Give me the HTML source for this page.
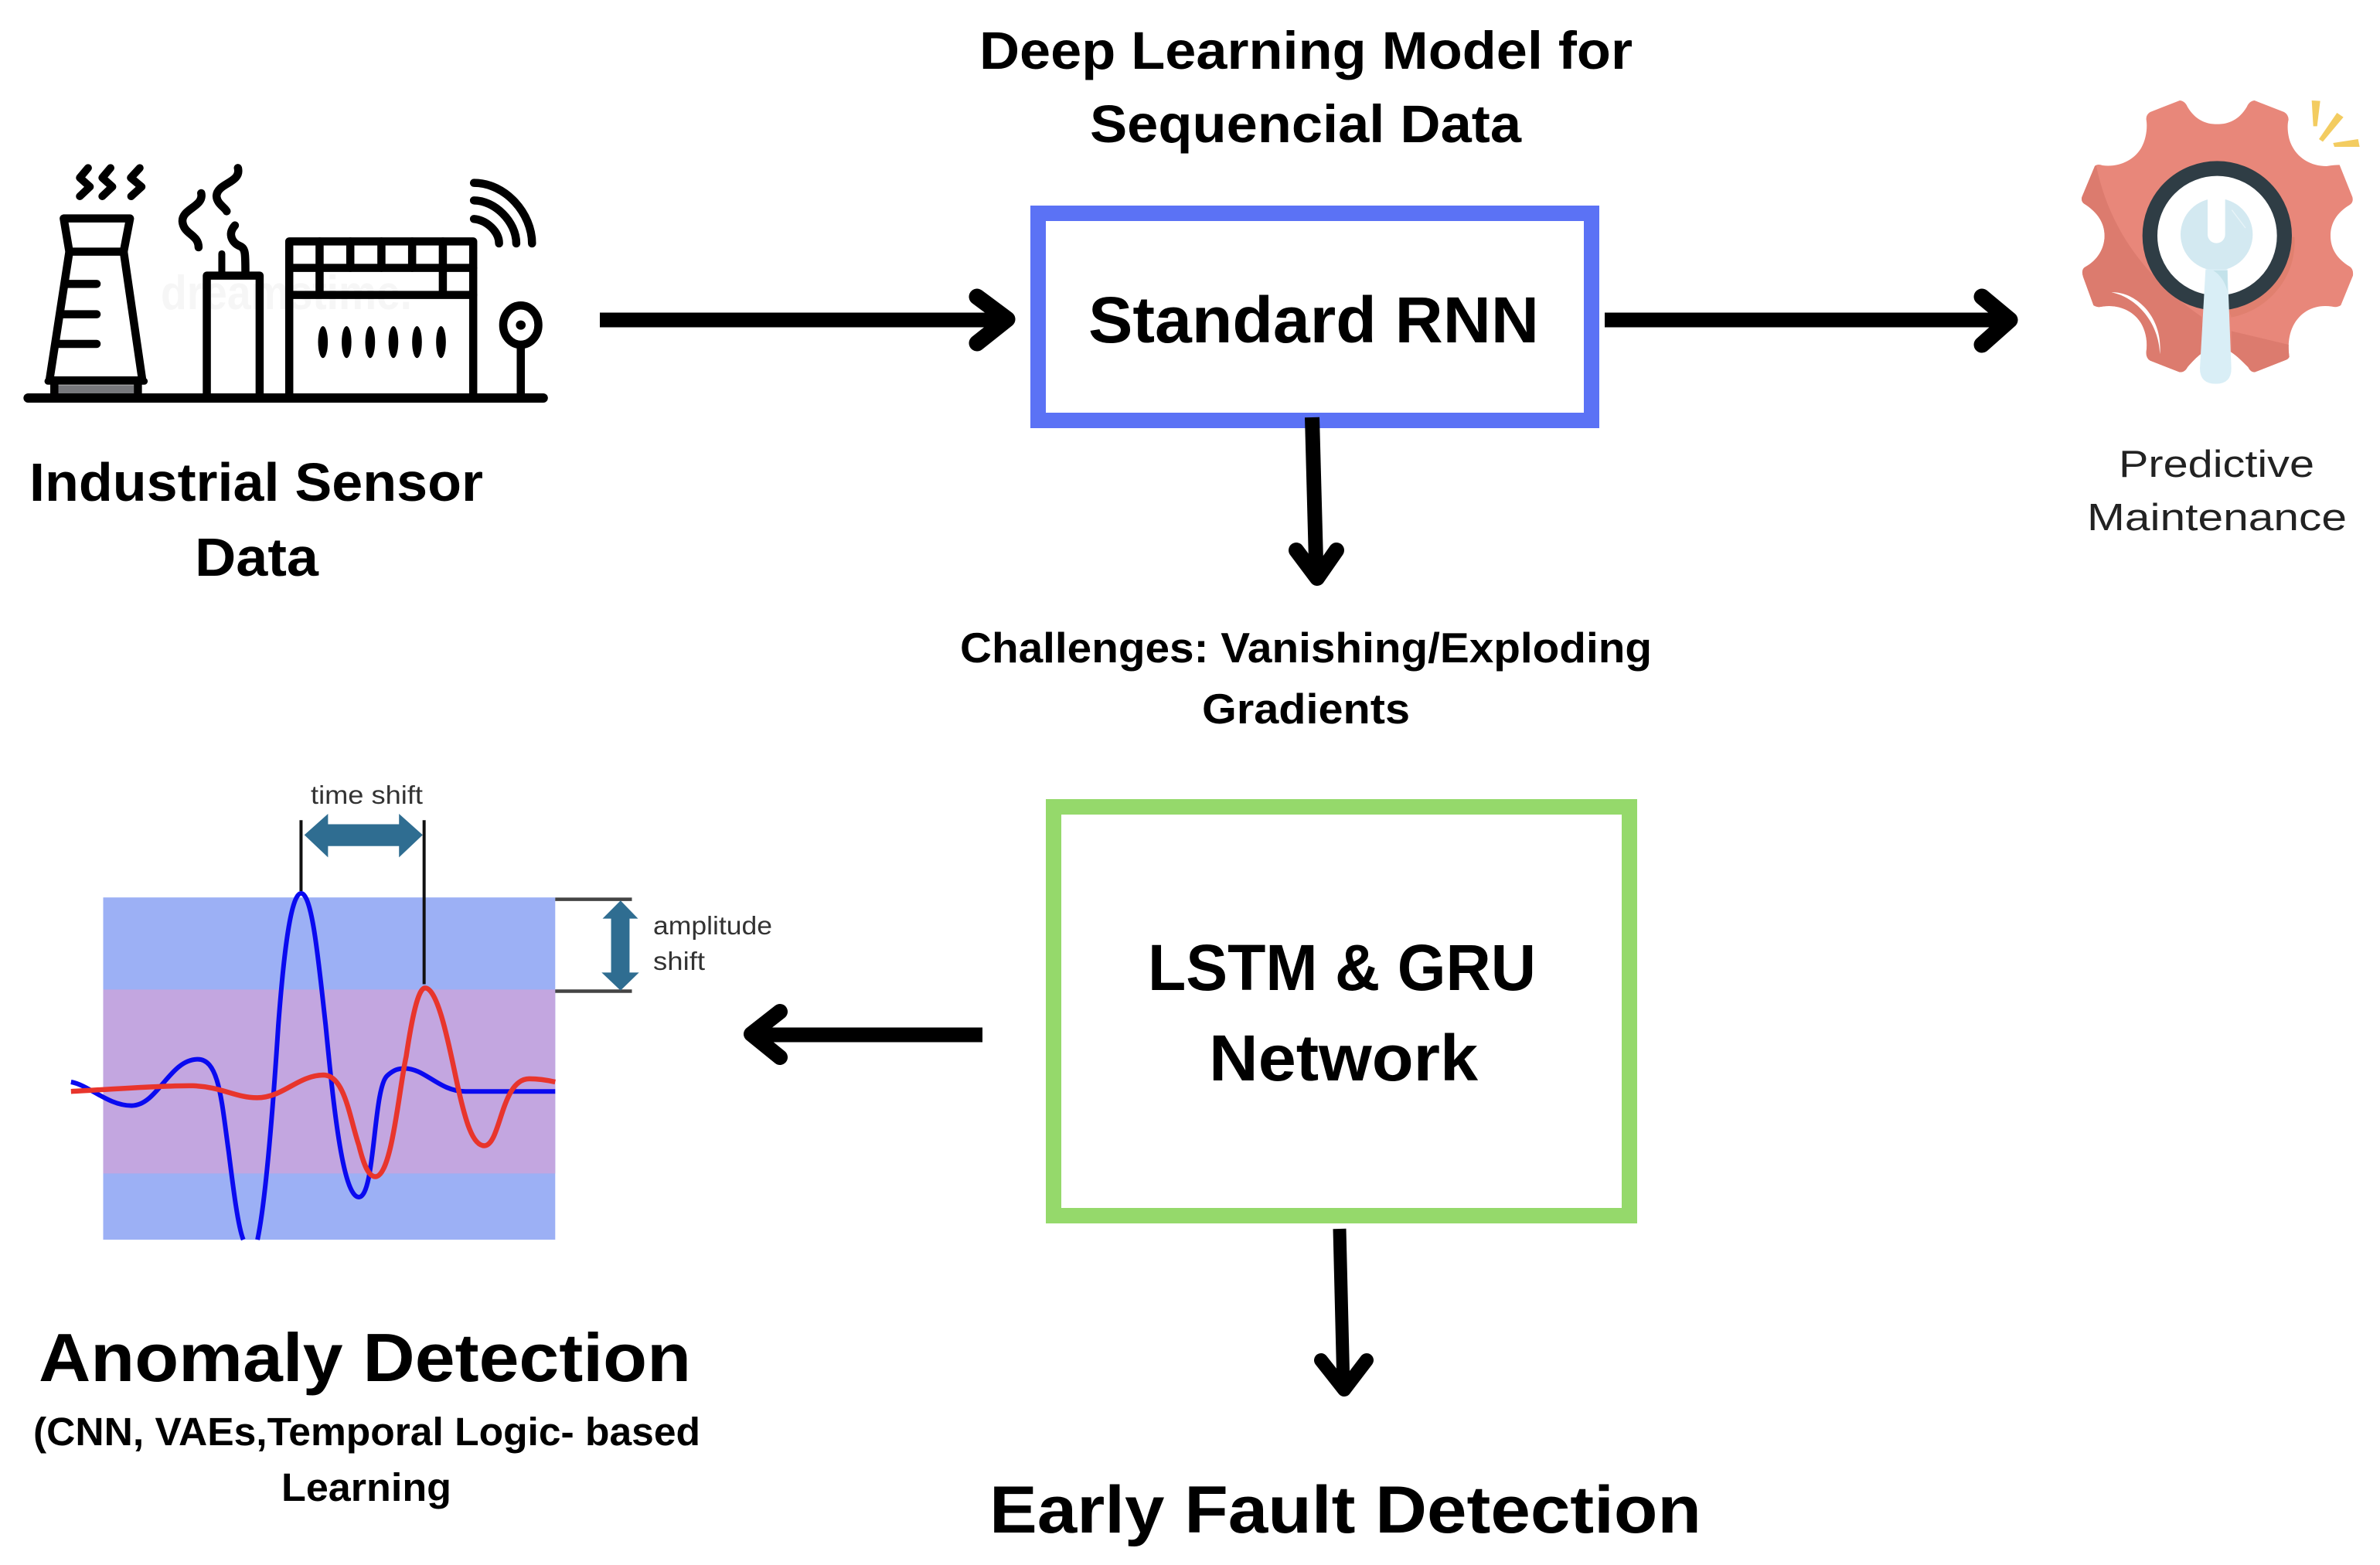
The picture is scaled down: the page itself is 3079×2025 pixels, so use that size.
<!DOCTYPE html>
<html lang="en">
<head>
<meta charset="utf-8">
<title>Deep Learning Model for Sequencial Data</title>
<style>
html,body{margin:0;padding:0;background:#fff;width:3079px;height:2025px;overflow:hidden}
svg{display:block}
text{font-family:"Liberation Sans",sans-serif;fill:#000}
.b{font-weight:700}
.ns{vector-effect:non-scaling-stroke}
.f *{vector-effect:non-scaling-stroke;fill:none;stroke:#000;stroke-linecap:round;stroke-linejoin:round;stroke-width:10.5}
.ar{fill:none;stroke:#000;stroke-linecap:round;stroke-linejoin:round;stroke-width:19}
</style>
</head>
<body>
<svg xmlns="http://www.w3.org/2000/svg" width="3079" height="2025" viewBox="0 0 3079 2025">
<rect width="3079" height="2025" fill="#fff"/>

<!-- Factory icon -->
<text x="208" y="400" font-size="62" class="b" textLength="325" lengthAdjust="spacingAndGlyphs" style="fill:#f6f6f6">dreamstime.</text>
<g transform="translate(0,180) scale(.4847,.3333)">
  <rect x="155" y="955" width="202" height="38" fill="#77787c"/>
  <g class="f">
    <path d="M75,1005H1450" style="stroke-width:12"/>
    <path d="M170,308H347L330,437L380,937H132L185,437Z"/>
    <path d="M185,437H330"/>
    <path d="M180,562H258M170,680H258M155,795H258"/>
    <path d="M128,940H385" style="stroke-width:9"/>
    <path d="M145,945V1000M368,945V1000"/>
    <path d="M235,112L213,150L240,185L213,222" style="stroke-width:10"/>
    <path d="M295,112L273,150L300,185L273,222" style="stroke-width:10"/>
    <path d="M373,112L349,150L378,185L350,222" style="stroke-width:10"/>
    <path d="M537,210C545,262 485,270 487,320C490,370 530,370 530,420"/>
    <path d="M635,112C645,170 580,170 578,220C578,250 600,265 605,280"/>
    <path d="M627,335C605,370 622,405 640,415C655,425 655,440 655,520"/>
    <path d="M592,445V522" style="stroke-width:9"/>
    <path d="M552,1000V530H693V1000"/>
    <path d="M772,1000V397H1263V1000"/>
    <path d="M772,500H1263M772,605H1263"/>
    <path d="M853,397V595M935,397V500M1018,397V500M1100,397V500M1182,397V595"/>
    <path d="M1265,170C1350,170 1420,290 1420,405"/>
    <path d="M1265,238C1320,238 1378,320 1378,405"/>
    <path d="M1265,310C1300,315 1332,360 1332,405"/>
    <ellipse cx="1390" cy="722" rx="47" ry="76"/>
    <path d="M1390,800V1000"/>
  </g>
  <ellipse cx="1390" cy="722" rx="13" ry="18" fill="#000"/>
  <ellipse cx="862" cy="788" rx="13" ry="62" fill="#000"/>
  <ellipse cx="925" cy="788" rx="13" ry="62" fill="#000"/>
  <ellipse cx="988" cy="788" rx="13" ry="62" fill="#000"/>
  <ellipse cx="1050" cy="788" rx="13" ry="62" fill="#000"/>
  <ellipse cx="1113" cy="788" rx="13" ry="62" fill="#000"/>
  <ellipse cx="1177" cy="788" rx="13" ry="62" fill="#000"/>
</g>

<text class="b" x="38" y="648" font-size="70" textLength="587" lengthAdjust="spacingAndGlyphs">Industrial Sensor</text>
<text class="b" x="252" y="745" font-size="70" textLength="160" lengthAdjust="spacingAndGlyphs">Data</text>

<!-- Title -->
<text class="b" x="1267" y="89" font-size="69" textLength="845" lengthAdjust="spacingAndGlyphs">Deep Learning Model for</text>
<text class="b" x="1410" y="184" font-size="69" textLength="558" lengthAdjust="spacingAndGlyphs">Sequencial Data</text>

<!-- Standard RNN box -->
<rect x="1343" y="276" width="716" height="268" fill="#fff" stroke="#5b72f5" stroke-width="20"/>
<text class="b" x="1408" y="443" font-size="84" textLength="583" lengthAdjust="spacingAndGlyphs">Standard RNN</text>

<!-- Arrows top -->
<path class="ar" d="M776,414H1300" style="stroke-linecap:butt"/>
<path class="ar" d="M1264,384L1303,413L1264,444" style="stroke-width:21"/>
<path class="ar" d="M2076,414H2596" style="stroke-linecap:butt"/>
<path class="ar" d="M2564,384L2600,414L2564,446" style="stroke-width:21"/>
<path d="M1697.5,540L1703,745" fill="none" stroke="#000" stroke-width="19"/>
<path class="ar" d="M1677,712L1704,748L1729,712" style="stroke-width:20"/>

<!-- Gear -->
<g transform="translate(2600,100) scale(.33333)">
  <defs>
    <clipPath id="g"><path id="gp" d="M660,90Q680,92 690,115C720,165 760,182 805,182C850,182 890,165 920,115Q930,92 950,90L1065,135Q1082,145 1082,165C1075,190 1080,230 1090,255C1115,315 1170,345 1230,345Q1260,340 1280,340L1330,465Q1335,485 1320,495C1270,525 1245,565 1245,615C1245,665 1270,705 1320,735Q1335,745 1332,770L1285,885Q1270,895 1250,890C1190,880 1130,905 1100,965C1080,1005 1080,1050 1085,1085Q1082,1095 1065,1100L950,1145Q935,1145 925,1125C880,1080 850,1050 805,1050C760,1050 725,1085 690,1125Q680,1145 660,1145L545,1100Q528,1090 530,1065C535,1030 530,990 510,955C480,905 420,880 360,890Q340,895 325,885L285,775Q275,745 295,735C340,710 368,665 368,615C368,565 340,525 295,495Q275,485 280,465L330,345Q340,335 360,342C420,350 480,325 510,275C530,240 535,195 530,165Q528,145 545,135Z"/></clipPath>
  </defs>
  <rect x="200" y="50" width="1200" height="1150" fill="#e8877a" clip-path="url(#g)"/>
  <g clip-path="url(#g)" fill="#dc7b6e">
    <path d="M335,340C380,560 500,760 745,930L760,1200L200,1200L200,340Z"/>
    <path d="M860,985L1090,1040L1090,1200L860,1200Z"/>
    <path d="M1105,620C1115,780 1000,905 860,932L850,900L1000,800L1090,620Z" fill="#e0806f"/>
  </g>
  <path d="M395,835C480,830 595,920 583,1075C578,940 480,850 395,835Z" fill="#fff"/>
  <circle cx="805" cy="615" r="261" fill="#fff" stroke="#2f3d45" stroke-width="58"/>
  <circle cx="803" cy="610" r="140" fill="#d3e9f1"/>
  <path d="M768,465H836V610A34,34 0 0 1 768,610Z" fill="#fff"/>
  <path d="M862,515L915,585" stroke="#e8f4f8" stroke-width="4" fill="none"/>
  <path d="M760,745H845L860,1130Q860,1190 800,1190Q738,1190 738,1130Z" fill="#d9eef6"/>
  <path d="M790,750H845V830Q830,775 790,750Z" fill="#c3e2ea"/>
  <g fill="#f3cc60">
    <path d="M1172,90L1205,92L1193,190L1178,190Z"/>
    <path d="M1270,138L1295,155L1215,250L1200,240Z"/>
    <path d="M1255,255L1352,240L1358,270L1260,270Z"/>
  </g>
</g>
<text x="2741" y="617" font-size="49" textLength="253" lengthAdjust="spacingAndGlyphs" style="fill:#222">Predictive</text>
<text x="2700" y="686" font-size="49" textLength="336" lengthAdjust="spacingAndGlyphs" style="fill:#222">Maintenance</text>

<!-- Challenges -->
<text class="b" x="1242" y="857" font-size="55" textLength="895" lengthAdjust="spacingAndGlyphs">Challenges: Vanishing/Exploding</text>
<text class="b" x="1555" y="936" font-size="55" textLength="269" lengthAdjust="spacingAndGlyphs">Gradients</text>

<!-- LSTM box -->
<rect x="1363" y="1044" width="745" height="529" fill="#fff" stroke="#95d96b" stroke-width="20"/>
<text class="b" x="1485" y="1281" font-size="84" textLength="502" lengthAdjust="spacingAndGlyphs">LSTM &amp; GRU</text>
<text class="b" x="1564" y="1398" font-size="84" textLength="348" lengthAdjust="spacingAndGlyphs">Network</text>

<!-- Lower arrows -->
<path d="M1733,1590L1738,1795" fill="none" stroke="#000" stroke-width="17"/>
<path class="ar" d="M1709,1760L1739,1798L1768,1760" style="stroke-width:18"/>
<text class="b" x="1280" y="1983" font-size="86" textLength="921" lengthAdjust="spacingAndGlyphs">Early Fault Detection</text>

<path d="M1271,1339H985" fill="none" stroke="#000" stroke-width="19"/>
<path class="ar" d="M1009,1309L972,1338L1009,1368" style="stroke-width:20"/>

<!-- Anomaly plot -->
<g transform="translate(60,1000) scale(.61237,.40816)">
  <rect x="120" y="395" width="955" height="1085" fill="#9cb0f5"/>
  <rect x="120" y="687" width="955" height="583" fill="#c3a6e0"/>
  <path class="ns" d="M52,980C90,990 130,1055 180,1055C235,1055 260,908 320,908C365,908 370,1040 385,1200C395,1320 405,1440 416,1480" fill="none" stroke="#0a0af0" stroke-width="6"/>
  <path class="ns" d="M446,1480C460,1380 475,1150 490,800C500,600 515,382 538,382C562,382 575,600 590,800C605,1030 625,1345 660,1345C695,1345 690,1000 720,960C735,940 745,937 757,937C800,937 830,1010 885,1010L1075,1010" fill="none" stroke="#0a0af0" stroke-width="6"/>
  <path class="ns" d="M52,1010C120,1005 250,990 310,992C370,995 400,1030 445,1030C500,1030 530,960 585,958C630,958 640,1090 660,1180C670,1240 680,1280 695,1280C730,1280 745,1000 760,900C772,780 785,682 800,682C830,682 855,900 870,1000C885,1100 900,1182 925,1182C960,1182 960,970 1020,970C1040,970 1060,975 1075,980" fill="none" stroke="#e8352c" stroke-width="6.5"/>
  <path class="ns" d="M538,150V375M798,150V670" fill="none" stroke="#111" stroke-width="4"/>
  <path d="M545,197L595,130V163H745V130L795,197L745,268V232H595V268Z" fill="#2f6d91"/>
  <path class="ns" d="M1075,401H1237M1075,692H1237" fill="none" stroke="#444" stroke-width="4.5"/>
  <path d="M1213,405L1175,462H1193V633H1173L1213,690L1252,633H1232V462H1250Z" fill="#2f6d91"/>
</g>
<text x="402" y="1040" font-size="33" textLength="145" lengthAdjust="spacingAndGlyphs" style="fill:#333">time shift</text>
<text x="845" y="1209" font-size="33" textLength="154" lengthAdjust="spacingAndGlyphs" style="fill:#333">amplitude</text>
<text x="845" y="1255" font-size="33" textLength="67" lengthAdjust="spacingAndGlyphs" style="fill:#333">shift</text>

<text class="b" x="50" y="1787" font-size="88" textLength="844" lengthAdjust="spacingAndGlyphs">Anomaly Detection</text>
<text class="b" x="43" y="1870" font-size="51" textLength="863" lengthAdjust="spacingAndGlyphs">(CNN, VAEs,Temporal Logic- based</text>
<text class="b" x="364" y="1942" font-size="51" textLength="220" lengthAdjust="spacingAndGlyphs">Learning</text>
</svg>
</body>
</html>
